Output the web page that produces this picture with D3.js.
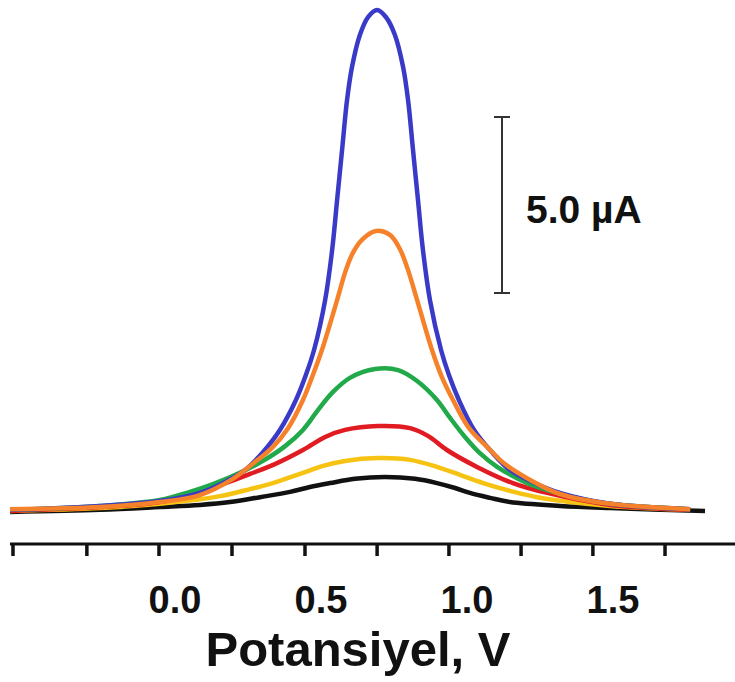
<!DOCTYPE html>
<html>
<head>
<meta charset="utf-8">
<script src="https://cdn.jsdelivr.net/npm/d3@7"></script>
<style>
  body { margin: 0; background: #fff; }
  text { font-family: "Liberation Sans", Arial, sans-serif; font-weight: bold; fill: #111; }
</style>
</head>
<body>
<div id="chart"></div>
<script>
// potential (V) and current (µA), one pair of arrays per curve
const blueV = [-0.558, -0.387, -0.250, -0.045, 0.092, 0.185, 0.247, 0.308, 0.366, 0.421, 0.455, 0.483, 0.521, 0.545, 0.562, 0.579, 0.596, 0.613, 0.640, 0.668, 0.699,
               0.729, 0.760, 0.788, 0.805, 0.822, 0.839, 0.856, 0.880, 0.918, 0.945, 0.979, 1.031, 1.092, 1.154, 1.223, 1.325, 1.497, 1.771];
const blueI = [0.09, 0.14, 0.20, 0.34, 0.57, 0.91, 1.22, 1.73, 2.36, 3.21, 3.92, 4.63, 6.05, 7.47, 8.89, 10.31, 11.73, 12.67, 13.58, 14.09, 14.29,
               14.09, 13.58, 12.67, 11.73, 10.31, 8.89, 7.47, 6.05, 4.63, 3.92, 3.21, 2.36, 1.73, 1.22, 0.91, 0.57, 0.26, 0.11];

const orangeV = [-0.558, -0.250, -0.045, 0.092, 0.205, 0.281, 0.339, 0.394, 0.445, 0.479, 0.510, 0.562, 0.592, 0.616, 0.647, 0.695,
                 0.743, 0.777, 0.805, 0.836, 0.887, 0.918, 0.959, 1.014, 1.079, 1.137, 1.223, 1.325, 1.497, 1.771];
const orangeI = [0.11, 0.17, 0.31, 0.51, 0.97, 1.45, 1.85, 2.41, 3.21, 3.92, 4.63, 6.05, 6.90, 7.39, 7.76, 8.01,
                 7.90, 7.50, 6.90, 6.05, 4.63, 3.92, 3.21, 2.41, 1.85, 1.39, 0.94, 0.54, 0.26, 0.11];

const greenV = [-0.558, -0.250, -0.045, 0.058, 0.137, 0.229, 0.308, 0.384, 0.445, 0.497, 0.548, 0.606, 0.692,
                0.771, 0.836, 0.904, 0.949, 1.000, 1.051, 1.110, 1.178, 1.247, 1.360, 1.497, 1.771];
const greenI = [0.09, 0.20, 0.37, 0.60, 0.82, 1.14, 1.48, 1.90, 2.36, 2.93, 3.44, 3.84, 4.09,
                4.06, 3.75, 3.21, 2.70, 2.16, 1.70, 1.31, 0.99, 0.74, 0.48, 0.26, 0.11];

const redV = [-0.558, -0.250, -0.045, 0.058, 0.171, 0.264, 0.349, 0.445, 0.521, 0.589, 0.702,
              0.812, 0.873, 0.938, 1.041, 1.164, 1.281, 1.497, 1.771];
const redI = [0.06, 0.17, 0.31, 0.54, 0.82, 1.11, 1.39, 1.79, 2.16, 2.36, 2.47,
              2.41, 2.19, 1.79, 1.31, 0.85, 0.57, 0.23, 0.09];

const yellowV = [-0.558, -0.250, -0.045, 0.161, 0.264, 0.342, 0.435, 0.514, 0.589, 0.702,
                 0.812, 0.904, 0.983, 1.062, 1.154, 1.247, 1.497, 1.771];
const yellowI = [0.06, 0.14, 0.26, 0.48, 0.68, 0.85, 1.11, 1.34, 1.48, 1.56,
                 1.51, 1.31, 1.08, 0.85, 0.63, 0.45, 0.20, 0.09];

const blackV = [-0.558, -0.250, -0.045, 0.092, 0.195, 0.298, 0.401, 0.469, 0.538, 0.623, 0.726,
                0.829, 0.904, 0.966, 1.017, 1.086, 1.154, 1.325, 1.497, 1.822];
const blackI = [0.03, 0.09, 0.17, 0.23, 0.31, 0.45, 0.60, 0.74, 0.85, 0.97, 1.02,
                0.97, 0.85, 0.71, 0.57, 0.43, 0.31, 0.20, 0.14, 0.06];

const series = [
  { name: "black",  v: blackV,  i: blackI,  color: "#111111" },
  { name: "yellow", v: yellowV, i: yellowI, color: "#f7c313" },
  { name: "red",    v: redV,    i: redI,    color: "#e01b22" },
  { name: "green",  v: greenV,  i: greenI,  color: "#21a94a" },
  { name: "blue",   v: blueV,   i: blueI,   color: "#3a3ac8" },
  { name: "orange", v: orangeV, i: orangeI, color: "#f5822a" }
];

// axis: minor ticks sit off the labelled values in the original figure
const tickValues = [-0.548, -0.295, -0.048, 0.202, 0.452, 0.699, 0.945, 1.192, 1.438, 1.685];
const labelValues = [0.0, 0.5, 1.0, 1.5];
const scaleBarI = 5.0;

const W = 735, H = 682;

const svg = d3.select("#chart").append("svg")
    .attr("width", W)
    .attr("height", H);

const x = d3.scaleLinear().domain([0, 1.5]).range([173, 611]);
const y = d3.scaleLinear().domain([0, 14.29]).range([513, 10]);

const line = d3.line()
    .x(d => x(d[0]))
    .y(d => y(d[1]))
    .curve(d3.curveCatmullRom.alpha(0.5));

series.forEach(s => {
  svg.append("path")
    .datum(s.v.map((v, k) => [v, s.i[k]]))
    .attr("fill", "none")
    .attr("stroke", s.color)
    .attr("stroke-width", 4.5)
    .attr("stroke-linejoin", "round")
    .attr("d", line);
});

// x axis
const axisY = 544;
svg.append("line")
    .attr("x1", 10).attr("x2", W)
    .attr("y1", axisY).attr("y2", axisY)
    .attr("stroke", "#111")
    .attr("stroke-width", 3);

svg.selectAll(".tick")
  .data(tickValues)
  .join("line")
    .attr("x1", d => x(d)).attr("x2", d => x(d))
    .attr("y1", axisY).attr("y2", axisY + 12)
    .attr("stroke", "#111")
    .attr("stroke-width", 3.5);

svg.selectAll(".lab")
  .data(labelValues)
  .join("text")
    .attr("x", d => x(d) + 2)
    .attr("y", 613)
    .attr("text-anchor", "middle")
    .style("font-size", "38px")
    .text(d => d.toFixed(1));

svg.append("text")
    .attr("x", 358)
    .attr("y", 666)
    .attr("text-anchor", "middle")
    .style("font-size", "49px")
    .text("Potansiyel, V");

// scale bar
const barX = 502;
const barTop = y(scaleBarI) - (y(0) - 293);
svg.append("line")
    .attr("x1", barX).attr("x2", barX)
    .attr("y1", barTop).attr("y2", 293)
    .attr("stroke", "#333").attr("stroke-width", 2);
[barTop, 293].forEach(yy => {
  svg.append("line")
    .attr("x1", barX - 8).attr("x2", barX + 8)
    .attr("y1", yy).attr("y2", yy)
    .attr("stroke", "#333").attr("stroke-width", 2);
});
svg.append("text")
    .attr("x", 526)
    .attr("y", 223)
    .style("font-size", "39px")
    .text(scaleBarI.toFixed(1) + " µA");
</script>
</body>
</html>
